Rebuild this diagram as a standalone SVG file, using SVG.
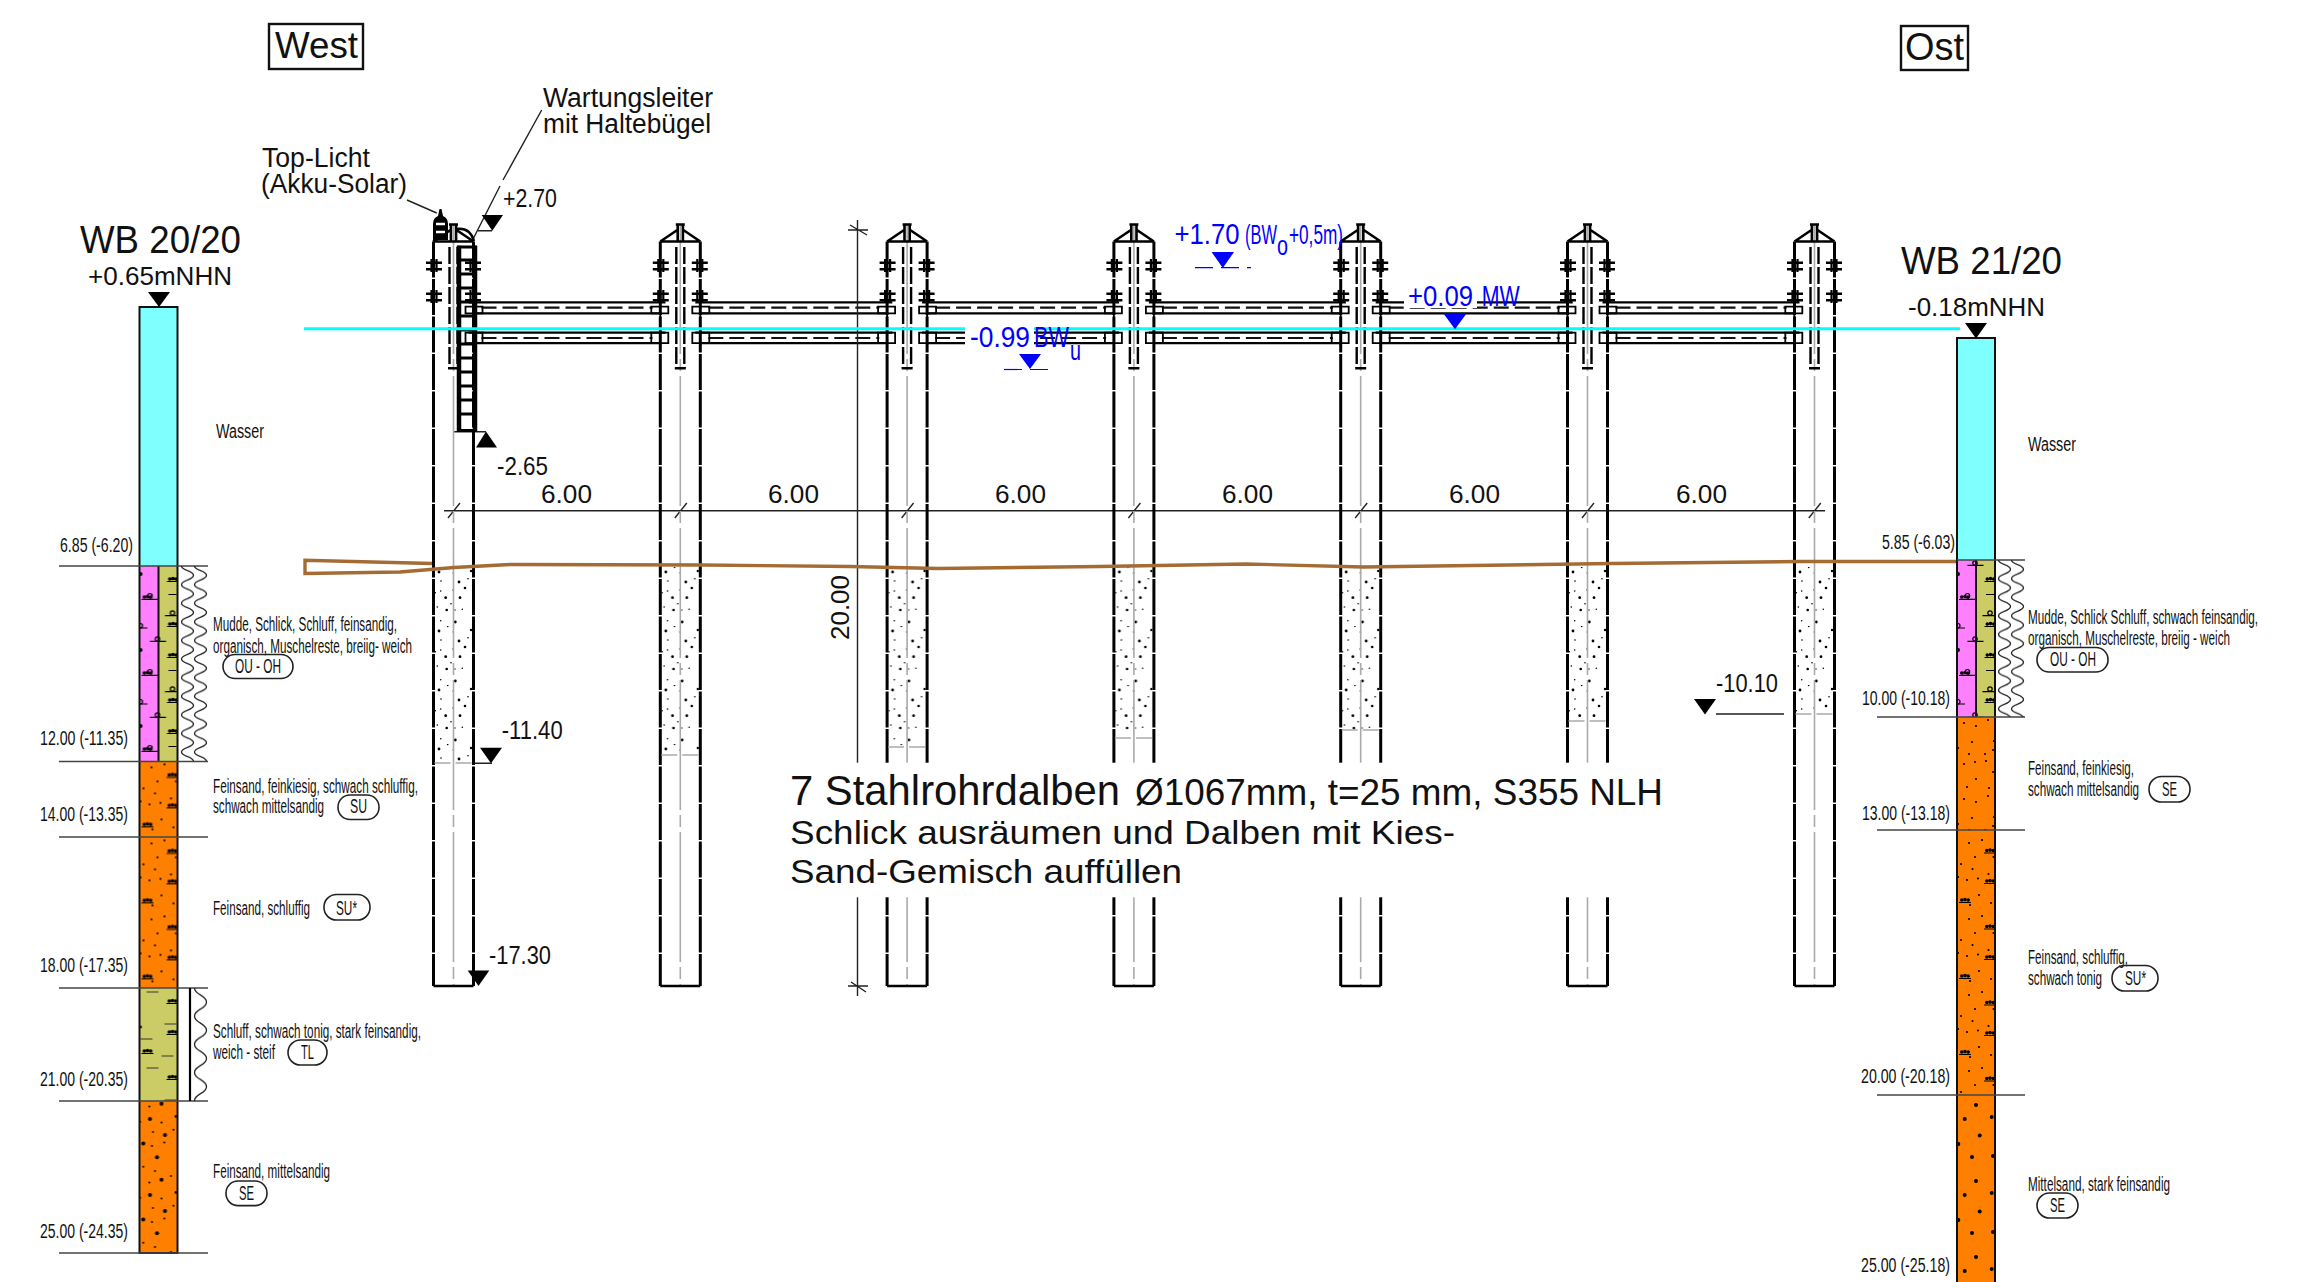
<svg xmlns="http://www.w3.org/2000/svg" xmlns:xlink="http://www.w3.org/1999/xlink" width="2298" height="1282" viewBox="0 0 2298 1282">
<style>
text{font-family:"Liberation Sans",Arial,sans-serif;fill:#111}
.s{font-family:"Liberation Sans Narrow","Liberation Sans",Arial,sans-serif;font-size:20px}
.m{font-size:26px}
.l{font-size:27px}
.b{fill:#0000ff}
.thin{stroke:#222;stroke-width:1.4;fill:none}
.lvl{stroke:#444;stroke-width:1.5;fill:none}
.col{stroke:#111;stroke-width:2;fill:none}
.pill{fill:none;stroke:#222;stroke-width:1.6}
.wall{stroke:#000;stroke-width:3;fill:none;stroke-dasharray:36 1.5}
.solid{stroke:#000;stroke-width:2.6;fill:none}
.cl{stroke:#aaa;stroke-width:1.6;fill:none;stroke-dasharray:130 5 12 5}
.dash{stroke:#000;stroke-width:2.4;fill:none;stroke-dasharray:17 3}
.fillend{stroke:#aaa;stroke-width:1.6;fill:none;stroke-dasharray:16 5}
.bm{stroke:#000;stroke-width:2.2;fill:none}
.bx{stroke:#000;stroke-width:1.8;fill:none}
.bd{stroke:#111;stroke-width:2.2;fill:none;stroke-dasharray:15 6}
.tri{fill:#000}
.btri{fill:#0000ff}
.bdash{stroke:#0000ff;stroke-width:1.2;fill:none;stroke-dasharray:18 8}
</style>
<defs>
<g id="mound"><circle cx="-3.2" cy="-1" r="1.8"/><circle cx="0" cy="-1.4" r="1.8"/><circle cx="3.2" cy="-1" r="1.8"/><rect x="-6" y="1" width="12" height="1"/></g>
<pattern id="sandM" patternUnits="userSpaceOnUse" width="38" height="76">
<g fill="#000"><circle cx="12" cy="6" r="1.1"/><circle cx="25" cy="3" r="1.1"/><circle cx="18" cy="20" r="1.1"/><circle cx="4" cy="27" r="1.1"/><circle cx="15.5" cy="32" r="1.1"/><circle cx="31.5" cy="37" r="1.1"/><circle cx="1" cy="40" r="1.1"/><circle cx="10" cy="43" r="1.1"/><circle cx="21" cy="41.5" r="1.1"/><circle cx="22" cy="58" r="1.1"/><circle cx="34" cy="66" r="1.1"/><circle cx="13" cy="68" r="1.1"/><circle cx="36.5" cy="20" r="1.1"/>
<use href="#mound" x="33" y="14.5"/><use href="#mound" x="33" y="45"/><use href="#mound" x="8" y="64"/></g>
</pattern>
<pattern id="sandS" patternUnits="userSpaceOnUse" width="38" height="76">
<g fill="#000"><circle cx="19" cy="9" r="1.1"/><circle cx="7" cy="6" r="1.1"/><circle cx="31" cy="3" r="1.1"/><circle cx="37" cy="24" r="1.1"/><circle cx="15" cy="25" r="1.1"/><circle cx="1" cy="31" r="1.1"/><circle cx="12" cy="37" r="1.1"/><circle cx="28" cy="37" r="1.1"/><circle cx="36" cy="33" r="1.1"/><circle cx="7" cy="47" r="1.1"/><circle cx="18" cy="45" r="1.1"/><circle cx="29" cy="44" r="1.1"/><circle cx="36" cy="55" r="1.1"/><circle cx="19" cy="62" r="1.1"/><circle cx="32" cy="71" r="1.1"/><circle cx="10" cy="70" r="1.1"/></g>
</pattern>
<pattern id="sandB" patternUnits="userSpaceOnUse" width="38" height="76">
<g fill="#000"><circle cx="10.5" cy="18" r="2"/><circle cx="25.5" cy="34" r="2"/><circle cx="3.8" cy="42.5" r="2"/><circle cx="17.5" cy="56.3" r="2"/><circle cx="22" cy="2.8" r="2"/><circle cx="36.5" cy="15.5" r="1.4"/><circle cx=".5" cy="20.7" r="1"/><circle cx="22" cy="21.4" r="1"/><circle cx="13.5" cy="31" r="1"/><circle cx="34" cy="28.7" r="1"/><circle cx="24.8" cy="41.5" r="1"/><circle cx="12.5" cy="45" r="1"/><circle cx="3.8" cy="65.7" r="1"/><circle cx="15.5" cy="70" r="1"/><circle cx="31.5" cy="75" r="1"/><circle cx="9.8" cy="5.6" r="1"/></g>
</pattern>
<pattern id="sandR" patternUnits="userSpaceOnUse" width="38" height="76">
<g fill="#000"><circle cx="19" cy="10" r="2"/><circle cx="34.7" cy="22" r="2"/><circle cx="7.7" cy="24" r="2"/><circle cx="22.7" cy="40.5" r="2"/><circle cx="1.3" cy="49" r="2"/><circle cx="15" cy="62" r="2"/><circle cx="36" cy="61" r="2"/></g>
</pattern>
<pattern id="mud" patternUnits="userSpaceOnUse" width="38" height="76">
<g fill="none" stroke="#000" stroke-width="1.2">
<circle cx="10.5" cy="29.7" r="2.2"/><path d="M3 33.4H19M10.5 75.3H26.5M0 62H8M25.5 49.7H37.5"/><circle cx="18" cy="73" r="2.2"/><circle cx=".8" cy="59.7" r="2.2"/><circle cx="33" cy="47" r="2.2"/></g>
<g fill="#000"><use href="#mound" x="8" y="32"/><use href="#mound" x="33.5" y="14"/><use href="#mound" x="33.5" y="59"/><circle cx="1" cy="8" r="2"/><path d="M29 28.5H37" stroke="#000" stroke-width="1"/></g>
</pattern>
<pattern id="silt" patternUnits="userSpaceOnUse" width="38" height="76">
<g fill="#000"><use href="#mound" x="33" y="14"/><use href="#mound" x="33" y="45"/><use href="#mound" x="8" y="64"/><circle cx="1" cy="39" r="1.4"/></g>
<path d="M7 4H19M25 36H37M1 51H13M22 68H34M7 78H19" stroke="#333" stroke-width="1.1" fill="none"/>
</pattern>
<pattern id="wave2" patternUnits="userSpaceOnUse" width="28" height="18.6">
<path d="M1.5 0C1.5 4.6 13.5 4.6 13.5 9.3S1.5 14 1.5 18.6M14.5 0C14.5 4.6 26.5 4.6 26.5 9.3S14.5 14 14.5 18.6" fill="none" stroke="#222" stroke-width="1.3"/>
</pattern>
<pattern id="wave1" patternUnits="userSpaceOnUse" width="16" height="28.2">
<path d="M1.5 0C1.5 7 13.5 7 13.5 14.1S1.5 21 1.5 28.2" fill="none" stroke="#222" stroke-width="1.3"/>
</pattern>
<pattern id="fill" patternUnits="userSpaceOnUse" x="-19.5" y="567" width="39" height="59">
<g fill="#000"><circle cx="5" cy="5" r="1.4"/><circle cx="19.3" cy="6" r=".8"/><circle cx="7" cy="14" r=".8"/><circle cx="25" cy="15" r="1.4"/><circle cx="34" cy="11.7" r=".8"/><circle cx="31" cy="21" r="1.3"/><circle cx="19" cy="23" r=".7"/><circle cx="6.7" cy="24" r=".8"/><circle cx="1.3" cy="25.7" r=".8"/><circle cx="11.7" cy="30.7" r="1.4"/><circle cx="26" cy="30.7" r="1.4"/><circle cx="17" cy="36.7" r=".8"/><circle cx="3.3" cy="40" r=".8"/><circle cx="12.7" cy="43" r="1.3"/><circle cx="21" cy="43" r=".7"/><circle cx="28.3" cy="42.3" r=".8"/><circle cx="6.7" cy="53.7" r=".8"/><circle cx="21.3" cy="55" r="1.4"/><circle cx="13.7" cy=".5" r=".8"/><circle cx="37" cy="4" r="1.2"/></g>
</pattern>
<g id="clamp"><path d="M-8 -3.3H8M-8 3.3H8" stroke="#000" stroke-width="2.4" fill="none"/><path d="M-2.5 -7V6M2.5 -7V6" stroke="#000" stroke-width="2.2" fill="none"/></g>
<g id="pileBody">
<path class="cl" d="M0 224V986"/>
<path class="wall" d="M-20 241.5V986M20 241.5V986"/>
<path class="solid" d="M-20 986H20M-20 241.5H20M-20 241.5L-3 230M20 241.5L3 230M-2.6 224V241.5M2.6 224V241.5M-4.5 224.5H4.5"/>
<path class="dash" d="M-4 247V368M4 247V368"/>
<rect x="-5.5" y="367" width="11" height="2.5"/>
<use href="#clamp" x="-19.5" y="266"/><use href="#clamp" x="19.5" y="266"/>
<use href="#clamp" x="-19.5" y="297"/><use href="#clamp" x="19.5" y="297"/>
</g>
<g id="span">
<path class="bm" d="M15 302.3H212M20 313.3H207M15 332.7H212M20 343.2H207"/>
<path class="bd" d="M28 307.6H199M28 338H199"/>
<path class="bx" d="M12 306.7H29V313.3H12ZM197.8 306.7H214.8V313.3H197.8ZM12 332.7H29V343.2H12ZM197.8 332.7H214.8V343.2H197.8ZM20 313V318M206.8 313V318M20 343V346M206.8 343V346"/>
</g>
</defs>
<rect width="2298" height="1282" fill="#fff"/>

<g id="connectors">
<use href="#span" x="453.5"/><use href="#span" x="680.3"/><use href="#span" x="907.1"/><use href="#span" x="1133.9"/><use href="#span" x="1360.7"/><use href="#span" x="1587.5"/>
<path class="thin" d="M444 510.7H1825"/>
<path class="thin" d="M448 518L460 503M674.8 518L686.8 503M901.6 518L913.6 503M1128.4 518L1140.4 503M1355.2 518L1367.2 503M1582 518L1594 503M1808.8 518L1820.8 503"/>
<path class="thin" d="M857.5 220V996M848 230H868M848 986H868M850 225L867 235M851 982L866 992"/>
<path class="thin" d="M541.7 110L503 180M500 186L471.7 241.7M407 200L436.7 213"/>
<path class="thin" d="M478 230.7H492M453.5 431.7H486M473 763.3H492M1716 714H1784"/>
</g>

<g id="pile-1" transform="translate(453.5,0)">
<rect x="-19" y="567" width="38" height="196" fill="url(#fill)"/><use href="#pileBody"/><path class="fillend" d="M-19 763H19"/>
</g>
<g id="pile-2" transform="translate(680.3,0)">
<rect x="-19" y="567" width="38" height="188" fill="url(#fill)"/><use href="#pileBody"/><path class="fillend" d="M-19 755H19"/>
</g>
<g id="pile-3" transform="translate(907.1,0)">
<rect x="-19" y="567" width="38" height="180" fill="url(#fill)"/><use href="#pileBody"/><path class="fillend" d="M-19 747H19"/>
</g>
<g id="pile-4" transform="translate(1133.9,0)">
<rect x="-19" y="567" width="38" height="171" fill="url(#fill)"/><use href="#pileBody"/><path class="fillend" d="M-19 738H19"/>
</g>
<g id="pile-5" transform="translate(1360.7,0)">
<rect x="-19" y="567" width="38" height="163" fill="url(#fill)"/><use href="#pileBody"/><path class="fillend" d="M-19 730H19"/>
</g>
<g id="pile-6" transform="translate(1587.5,0)">
<rect x="-19" y="567" width="38" height="154" fill="url(#fill)"/><use href="#pileBody"/><path class="fillend" d="M-19 721H19"/>
</g>
<g id="pile-7" transform="translate(1814.5,0)">
<rect x="-19" y="567" width="38" height="147" fill="url(#fill)"/><use href="#pileBody"/><path class="fillend" d="M-19 714H19"/>
</g>

<g id="ladder">
<path d="M459 245.7V431.7M475 245.7V431.7" stroke="#000" stroke-width="4.5" fill="none"/>
<path d="M457 247H477M457 260H477M457 274H477M457 288H477M457 302H477M457 316H477M457 330H477M457 344H477M457 358H477M457 372H477M457 386H477M457 400H477M457 414H477M457 430.5H477" stroke="#000" stroke-width="3.2" fill="none"/>
<path d="M456 229Q470 227 474 241" stroke="#000" stroke-width="2.4" fill="none"/>
</g>
<g id="top-licht">
<path d="M433 240V224Q433 218 438 216L439.5 209H441.5L443 216Q448 218 448 224V240Z" fill="#000"/>
<path d="M436 224H445M436 232H445" stroke="#fff" stroke-width="2.4" fill="none"/>
<path d="M433 241L447 233" stroke="#000" stroke-width="2" fill="none"/>
</g>

<path id="water" d="M304 328.7H1960" stroke="#00ffff" stroke-width="3" fill="none"/>
<path id="seabed" d="M432 563.5L305 560.3V573.5L400 572L454 567.5L510 564.5L703 565L850 566.5L938 568.5L1100 566.5L1246 564L1363 567L1612 563.5L1800 561.5L1960 561.5" stroke="#a56b35" stroke-width="3.4" fill="none"/>

<rect x="788" y="762.7" width="882" height="134.6" fill="#fff"/>
<rect x="965" y="322" width="69" height="28" fill="#fff"/>
<rect x="1404" y="280" width="73" height="28" fill="#fff"/>

<g id="west-label"><rect x="269" y="24" width="94" height="45" fill="none" stroke="#111" stroke-width="2.4"/><text x="275" y="58.3" font-size="36" textLength="83" lengthAdjust="spacingAndGlyphs">West</text></g>
<g id="ost-label"><rect x="1901" y="26" width="67" height="44" fill="none" stroke="#111" stroke-width="2.4"/><text x="1905" y="60" font-size="38" textLength="59" lengthAdjust="spacingAndGlyphs">Ost</text></g>

<g id="annotations">
<text class="l" x="543" y="106.7" textLength="170" lengthAdjust="spacingAndGlyphs">Wartungsleiter</text>
<text class="l" x="543" y="132.7" textLength="168" lengthAdjust="spacingAndGlyphs">mit Haltebügel</text>
<text class="l" x="262" y="166.7" textLength="108" lengthAdjust="spacingAndGlyphs">Top-Licht</text>
<text class="l" x="261" y="192.7" textLength="146" lengthAdjust="spacingAndGlyphs">(Akku-Solar)</text>
<text class="m" x="503" y="206.7" textLength="54" lengthAdjust="spacingAndGlyphs">+2.70</text>
<path class="tri" d="M481.7 215H503L492.3 230.7Z"/>
<text class="m" x="497" y="475" textLength="51" lengthAdjust="spacingAndGlyphs">-2.65</text>
<path class="tri" d="M486 431.5L497 447.5H476Z"/>
<text class="m" x="501.7" y="739" textLength="61" lengthAdjust="spacingAndGlyphs">-11.40</text>
<path class="tri" d="M480 747.7H502L491 763.3Z"/>
<text class="m" x="489" y="964" textLength="62" lengthAdjust="spacingAndGlyphs">-17.30</text>
<path class="tri" d="M467.7 970.6H489.3L478.5 986Z"/>
<text class="m" x="1716" y="692" textLength="62" lengthAdjust="spacingAndGlyphs">-10.10</text>
<path class="tri" d="M1694 699H1716L1705 714.5Z"/>
<text class="m" x="541" y="503" textLength="51" lengthAdjust="spacingAndGlyphs">6.00</text>
<text class="m" x="768" y="503" textLength="51" lengthAdjust="spacingAndGlyphs">6.00</text>
<text class="m" x="995" y="503" textLength="51" lengthAdjust="spacingAndGlyphs">6.00</text>
<text class="m" x="1222" y="503" textLength="51" lengthAdjust="spacingAndGlyphs">6.00</text>
<text class="m" x="1449" y="503" textLength="51" lengthAdjust="spacingAndGlyphs">6.00</text>
<text class="m" x="1676" y="503" textLength="51" lengthAdjust="spacingAndGlyphs">6.00</text>
<text class="m" transform="translate(849,640) rotate(-90)" x="0" y="0" textLength="65" lengthAdjust="spacingAndGlyphs">20.00</text>
<text x="790" y="805" font-size="42" textLength="330" lengthAdjust="spacingAndGlyphs">7 Stahlrohrdalben</text>
<text x="1135" y="805" font-size="36" textLength="528" lengthAdjust="spacingAndGlyphs">Ø1067mm, t=25 mm, S355 NLH</text>
<text x="790" y="844" font-size="33" textLength="665" lengthAdjust="spacingAndGlyphs">Schlick ausräumen und Dalben mit Kies-</text>
<text x="790" y="883" font-size="33" textLength="392" lengthAdjust="spacingAndGlyphs">Sand-Gemisch auffüllen</text>
</g>

<g id="water-levels">
<text class="b" x="1174.5" y="244" font-size="30" textLength="65" lengthAdjust="spacingAndGlyphs">+1.70</text>
<text class="b" x="1245" y="244" font-size="27" textLength="32" lengthAdjust="spacingAndGlyphs">(BW</text>
<text class="b" x="1277" y="255" font-size="27" textLength="11" lengthAdjust="spacingAndGlyphs">o</text>
<text class="b" x="1289" y="244" font-size="27" textLength="54" lengthAdjust="spacingAndGlyphs">+0,5m)</text>
<path class="btri" d="M1211.6 252H1234L1222.8 268Z"/><path class="bdash" d="M1195 267.7H1251"/>
<text class="b" x="970" y="346.7" font-size="30" textLength="60" lengthAdjust="spacingAndGlyphs">-0.99</text>
<text class="b" x="1034" y="346.7" font-size="30" textLength="35" lengthAdjust="spacingAndGlyphs">BW</text>
<text class="b" x="1070" y="360" font-size="28" textLength="11" lengthAdjust="spacingAndGlyphs">u</text>
<path class="btri" d="M1019 354H1041L1030 369Z"/><path class="bdash" d="M1004 369.5H1056"/>
<text class="b" x="1408" y="305.7" font-size="30" textLength="65" lengthAdjust="spacingAndGlyphs">+0.09</text>
<text class="b" x="1481.7" y="305.7" font-size="30" textLength="38" lengthAdjust="spacingAndGlyphs">MW</text>
<path class="btri" d="M1443.3 313.3H1466.7L1455 329.3Z"/>
</g>

<g id="borehole-west">
<rect x="139.5" y="307" width="38" height="259" fill="#80ffff"/>
<rect x="139.5" y="566" width="19" height="195.4" fill="#ff80ff"/>
<rect x="158.5" y="566" width="19" height="195.4" fill="#cccc66"/>
<rect transform="translate(139.5,566)" width="38" height="195.4" fill="url(#mud)"/>
<rect x="139.5" y="761.4" width="38" height="226.6" fill="#ff8000"/>
<rect transform="translate(139.5,761.4)" width="38" height="226.6" fill="url(#sandM)"/>
<rect x="139.5" y="988" width="38" height="113" fill="#cccc66"/>
<rect transform="translate(139.5,988)" width="38" height="113" fill="url(#silt)"/>
<rect x="139.5" y="1101" width="38" height="152" fill="#ff8000"/>
<rect transform="translate(139.5,1101)" width="38" height="152" fill="url(#sandB)"/>
<path class="col" d="M139.5 307H177.5V1253H139.5ZM158.5 566V761.4"/>
<path class="lvl" d="M59 566H208M59 761.4H208M59 837H208M59 988H208M59 1101H208M59 1253H208"/>
<rect transform="translate(180,566)" width="28" height="195" fill="url(#wave2)"/>
<rect transform="translate(193,988)" width="16" height="113" fill="url(#wave1)"/>
<path d="M190 988V1101" stroke="#000" stroke-width="2.2" fill="none"/>
<path class="tri" d="M148 292H170L159 307Z"/>
<text x="80" y="253" font-size="38" textLength="161" lengthAdjust="spacingAndGlyphs">WB 20/20</text>
<text x="88" y="285" font-size="26" textLength="144" lengthAdjust="spacingAndGlyphs">+0.65mNHN</text>
<text class="s" x="216" y="437.5" textLength="48" lengthAdjust="spacingAndGlyphs">Wasser</text>
<text class="s" x="60" y="552" textLength="73" lengthAdjust="spacingAndGlyphs">6.85 (-6.20)</text>
<text class="s" x="40" y="745" textLength="88" lengthAdjust="spacingAndGlyphs">12.00 (-11.35)</text>
<text class="s" x="40" y="821" textLength="88" lengthAdjust="spacingAndGlyphs">14.00 (-13.35)</text>
<text class="s" x="40" y="972" textLength="88" lengthAdjust="spacingAndGlyphs">18.00 (-17.35)</text>
<text class="s" x="40" y="1086" textLength="88" lengthAdjust="spacingAndGlyphs">21.00 (-20.35)</text>
<text class="s" x="40" y="1238" textLength="88" lengthAdjust="spacingAndGlyphs">25.00 (-24.35)</text>
<text class="s" x="213" y="631" textLength="184" lengthAdjust="spacingAndGlyphs">Mudde, Schlick, Schluff, feinsandig,</text>
<text class="s" x="213" y="652.5" textLength="199" lengthAdjust="spacingAndGlyphs">organisch, Muschelreste, breiig- weich</text>
<rect class="pill" x="223" y="654.5" width="70" height="24" rx="12"/>
<text class="s" x="235" y="673" textLength="46" lengthAdjust="spacingAndGlyphs">OU - OH</text>
<text class="s" x="213" y="792.5" textLength="205" lengthAdjust="spacingAndGlyphs">Feinsand, feinkiesig, schwach schluffig,</text>
<text class="s" x="213" y="813" textLength="111" lengthAdjust="spacingAndGlyphs">schwach mittelsandig</text>
<rect class="pill" x="338" y="795" width="41" height="24.5" rx="12"/>
<text class="s" x="350" y="813" textLength="17" lengthAdjust="spacingAndGlyphs">SU</text>
<text class="s" x="213" y="914.6" textLength="97" lengthAdjust="spacingAndGlyphs">Feinsand, schluffig</text>
<rect class="pill" x="324" y="894.5" width="46" height="25.5" rx="12.5"/>
<text class="s" x="336" y="914.6" textLength="21" lengthAdjust="spacingAndGlyphs">SU*</text>
<text class="s" x="213" y="1038" textLength="208" lengthAdjust="spacingAndGlyphs">Schluff, schwach tonig, stark feinsandig,</text>
<text class="s" x="213" y="1059" textLength="62" lengthAdjust="spacingAndGlyphs">weich - steif</text>
<rect class="pill" x="288" y="1040" width="39" height="25" rx="12.5"/>
<text class="s" x="301" y="1059" textLength="13" lengthAdjust="spacingAndGlyphs">TL</text>
<text class="s" x="213" y="1178" textLength="117" lengthAdjust="spacingAndGlyphs">Feinsand, mittelsandig</text>
<rect class="pill" x="226" y="1181" width="41" height="24.6" rx="12"/>
<text class="s" x="239" y="1200" textLength="15" lengthAdjust="spacingAndGlyphs">SE</text>
</g>

<g id="borehole-ost">
<rect x="1957" y="338" width="38" height="222" fill="#80ffff"/>
<rect x="1957" y="560" width="19" height="157" fill="#ff80ff"/>
<rect x="1976" y="560" width="19" height="157" fill="#cccc66"/>
<rect transform="translate(1957,566)" y="-6" width="38" height="157" fill="url(#mud)"/>
<rect x="1957" y="717" width="38" height="565" fill="#ff8000"/>
<rect transform="translate(1957,717)" width="38" height="113" fill="url(#sandS)"/>
<rect transform="translate(1957,837)" y="-7" width="38" height="265" fill="url(#sandM)"/>
<rect transform="translate(1957,1095)" width="38" height="187" fill="url(#sandR)"/>
<path class="col" d="M1957 1283V338H1995V1283M1976 560V717"/>
<path class="lvl" d="M1957 560H2025M1877 717H2025M1877 830H2025M1877 1095H2025"/>
<rect transform="translate(1997,560)" width="28" height="157" fill="url(#wave2)"/>
<path class="tri" d="M1965 323H1987L1976 338.5Z"/>
<text x="1901" y="274" font-size="38" textLength="161" lengthAdjust="spacingAndGlyphs">WB 21/20</text>
<text x="1908" y="316" font-size="26" textLength="137" lengthAdjust="spacingAndGlyphs">-0.18mNHN</text>
<text class="s" x="2028" y="451" textLength="48" lengthAdjust="spacingAndGlyphs">Wasser</text>
<text class="s" x="1882" y="549" textLength="73" lengthAdjust="spacingAndGlyphs">5.85 (-6.03)</text>
<text class="s" x="1862" y="705" textLength="88" lengthAdjust="spacingAndGlyphs">10.00 (-10.18)</text>
<text class="s" x="1862" y="819.5" textLength="88" lengthAdjust="spacingAndGlyphs">13.00 (-13.18)</text>
<text class="s" x="1861" y="1083" textLength="89" lengthAdjust="spacingAndGlyphs">20.00 (-20.18)</text>
<text class="s" x="1861" y="1272" textLength="89" lengthAdjust="spacingAndGlyphs">25.00 (-25.18)</text>
<text class="s" x="2028" y="624" textLength="230" lengthAdjust="spacingAndGlyphs">Mudde, Schlick Schluff, schwach feinsandig,</text>
<text class="s" x="2028" y="645" textLength="202" lengthAdjust="spacingAndGlyphs">organisch, Muschelreste, breiig - weich</text>
<rect class="pill" x="2037" y="647.5" width="71" height="24.5" rx="12"/>
<text class="s" x="2050" y="666" textLength="46" lengthAdjust="spacingAndGlyphs">OU - OH</text>
<text class="s" x="2028" y="774.6" textLength="106" lengthAdjust="spacingAndGlyphs">Feinsand, feinkiesig,</text>
<text class="s" x="2028" y="796" textLength="111" lengthAdjust="spacingAndGlyphs">schwach mittelsandig</text>
<rect class="pill" x="2149" y="776.5" width="41" height="25.5" rx="12.5"/>
<text class="s" x="2162" y="796" textLength="15" lengthAdjust="spacingAndGlyphs">SE</text>
<text class="s" x="2028" y="964" textLength="100" lengthAdjust="spacingAndGlyphs">Feinsand, schluffig,</text>
<text class="s" x="2028" y="985.4" textLength="74" lengthAdjust="spacingAndGlyphs">schwach tonig</text>
<rect class="pill" x="2112" y="965.5" width="46" height="25.5" rx="12.5"/>
<text class="s" x="2125" y="985.4" textLength="21" lengthAdjust="spacingAndGlyphs">SU*</text>
<text class="s" x="2028" y="1191" textLength="142" lengthAdjust="spacingAndGlyphs">Mittelsand, stark feinsandig</text>
<rect class="pill" x="2037" y="1193" width="41" height="25" rx="12.5"/>
<text class="s" x="2050" y="1212" textLength="15" lengthAdjust="spacingAndGlyphs">SE</text>
</g>
</svg>
